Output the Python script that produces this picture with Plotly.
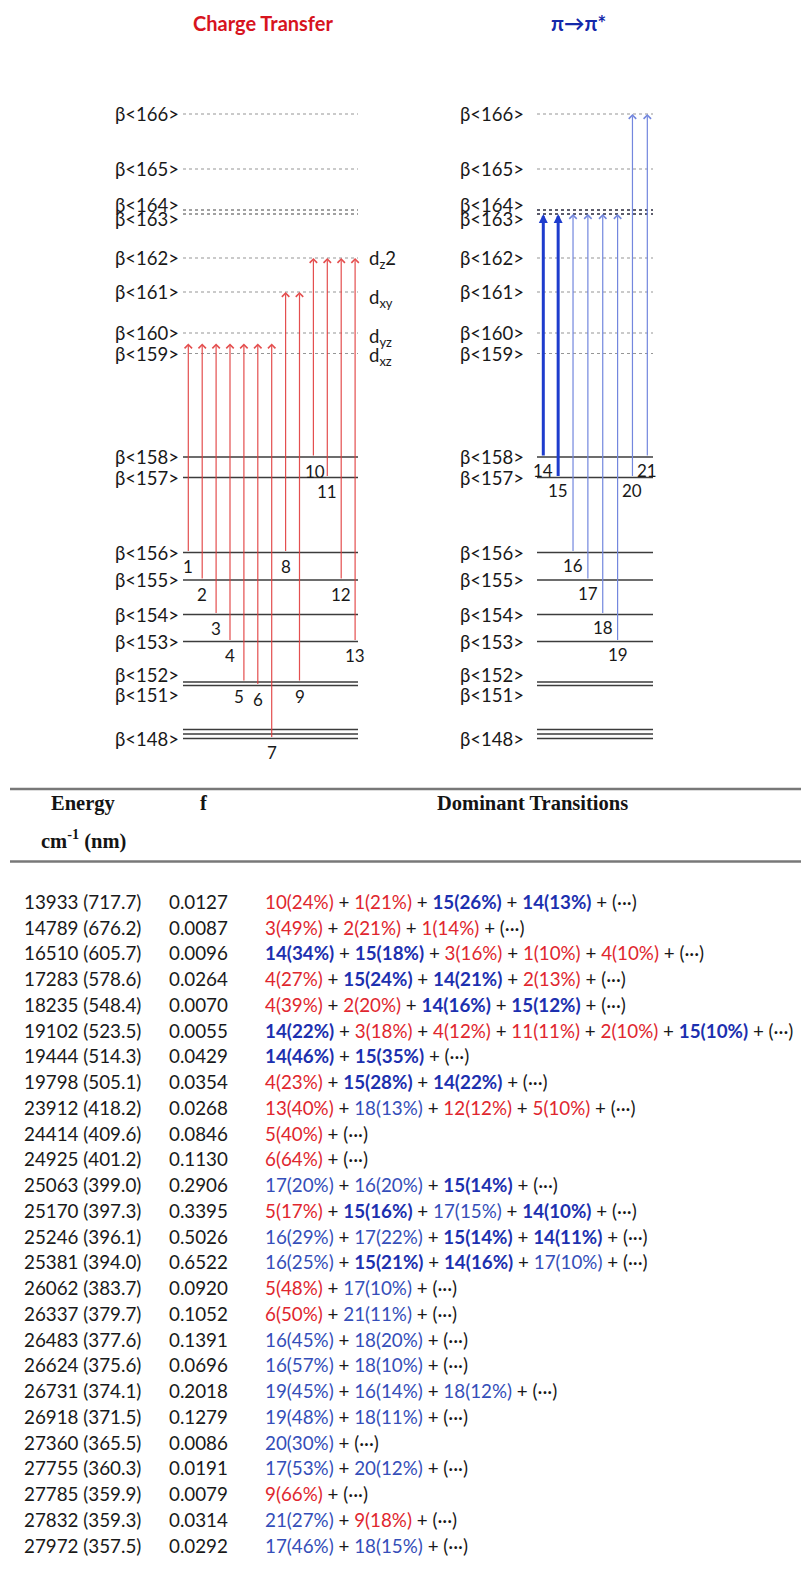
import plotly.graph_objects as go

W, H = 801, 1573

# ---------------- DATA ----------------
# beta spin orbitals, schematic positions in the diagram (arbitrary energy units, higher = less stable)
level_ids = [148, 149, 150, 151, 152, 153, 154, 155, 156, 157, 158,
             159, 160, 161, 162, 163, 164, 165, 166]
level_pos = [21.5, 26, 30.5, 74.5, 78, 118.5, 145.5, 180, 207.5, 282.5, 303,
             406.5, 427, 468, 502, 546, 550, 591, 646]
unlabeled_levels = [149, 150]
last_occupied = 158

# charge-transfer transitions (1-13)
ct_num = [1, 2, 3, 4, 5, 6, 7, 8, 9, 10, 11, 12, 13]
ct_from = [156, 155, 154, 153, 152, 151, 148, 156, 152, 158, 157, 155, 153]
ct_to = [159, 159, 159, 159, 159, 159, 159, 161, 161, 162, 162, 162, 162]

# pi -> pi* transitions (14-21)
pp_num = [14, 15, 16, 17, 18, 19, 20, 21]
pp_from = [158, 157, 156, 155, 154, 153, 157, 158]
pp_to = [163, 163, 163, 163, 163, 163, 166, 166]
pp_major = [14, 15]

d_labels = ["d<sub>xz</sub>", "d<sub>yz</sub>", "d<sub>xy</sub>", "d<sub>z</sub>2"]
d_levels = [159, 160, 161, 162]

# table
energy_cm = [13933, 14789, 16510, 17283, 18235, 19102, 19444, 19798, 23912, 24414,
             24925, 25063, 25170, 25246, 25381, 26062, 26337, 26483, 26624, 26731,
             26918, 27360, 27755, 27785, 27832, 27972]
wavelength_nm = [717.7, 676.2, 605.7, 578.6, 548.4, 523.5, 514.3, 505.1, 418.2, 409.6,
                 401.2, 399.0, 397.3, 396.1, 394.0, 383.7, 379.7, 377.6, 375.6, 374.1,
                 371.5, 365.5, 360.3, 359.9, 359.3, 357.5]
osc_f = [0.0127, 0.0087, 0.0096, 0.0264, 0.0070, 0.0055, 0.0429, 0.0354, 0.0268, 0.0846,
         0.1130, 0.2906, 0.3395, 0.5026, 0.6522, 0.0920, 0.1052, 0.1391, 0.0696, 0.2018,
         0.1279, 0.0086, 0.0191, 0.0079, 0.0314, 0.0292]
dom_num = [[10, 1, 15, 14], [3, 2, 1], [14, 15, 3, 1, 4], [4, 15, 14, 2], [4, 2, 14, 15],
           [14, 3, 4, 11, 2, 15], [14, 15], [4, 15, 14], [13, 18, 12, 5], [5], [6],
           [17, 16, 15], [5, 15, 17, 14], [16, 17, 15, 14], [16, 15, 14, 17], [5, 17],
           [6, 21], [16, 18], [16, 18], [19, 16, 18], [19, 18], [20], [17, 20], [9],
           [21, 9], [17, 18]]
dom_pct = [[24, 21, 26, 13], [49, 21, 14], [34, 18, 16, 10, 10], [27, 24, 21, 13], [39, 20, 16, 12],
           [22, 18, 12, 11, 10, 10], [46, 35], [23, 28, 22], [40, 13, 12, 10], [40], [64],
           [20, 20, 14], [17, 16, 15, 10], [29, 22, 14, 11], [25, 21, 16, 10], [48, 10],
           [50, 11], [45, 20], [57, 10], [45, 14, 12], [48, 11], [30], [53, 12], [66],
           [27, 18], [46, 15]]

# ---------------- STYLE / LAYOUT ----------------
RED = "rgb(224,38,46)"
RED_ARROW = "rgba(226,60,60,0.9)"
BLUE_BOLD = "rgb(28,48,175)"
BLUE_TXT = "rgb(52,78,185)"
BLUE_THICK = "rgb(30,60,205)"
BLUE_THIN = "rgb(115,135,222)"
TXT = "rgb(25,25,25)"
FONT = "Lato, 'Open Sans', sans-serif"
SERIF = "'Liberation Serif', 'Times New Roman', serif"

LEFT_X = (183, 358)
RIGHT_X = (537, 653)
LEFT_LABEL_X = 181
RIGHT_LABEL_X = 526
CT_X0, CT_DX = 188.3, 13.9
PP_X0, PP_DX = 543.3, 14.86
DIAG_TOP_PX = 760          # y-axis: value 0 at pixel 760, value 760 at pixel 0
TABLE_TOP_PX = 870
ROW0_PX, ROW_DY = 901.3, 25.75
TIP_OFFSET = {159: 10}     # arrow heads drawn slightly above the d(xz) line
NUM_XSHIFT = {5: -5, 10: 2}

pos = dict(zip(level_ids, level_pos))


def paper_y(px):
    return 1 - px / H


fig = go.Figure()

# ---- level lines ----
groups = {"occ": ([], []), "virt": ([], []), "virt_dark": ([], []), "virt_pair": ([], [])}
for lid in level_ids:
    y = pos[lid]
    for side, (x0, x1) in (("L", LEFT_X), ("R", RIGHT_X)):
        if lid <= last_occupied:
            g = "occ"
        elif lid in (163, 164):
            g = "virt_dark" if side == "R" else "virt_pair"
        else:
            g = "virt"
        groups[g][0].extend([x0, x1, None])
        groups[g][1].extend([y, y, None])

styles = {
    "occ": dict(color="rgb(60,60,60)", width=1.3, dash="solid"),
    "virt": dict(color="rgb(150,150,150)", width=1.2, dash="dot"),
    "virt_pair": dict(color="rgb(130,130,130)", width=1.3, dash="dot"),
    "virt_dark": dict(color="rgb(40,40,60)", width=1.6, dash="dot"),
}
for g, (xs, ys) in groups.items():
    fig.add_trace(go.Scatter(x=xs, y=ys, mode="lines", line=styles[g],
                             hoverinfo="skip", showlegend=False, xaxis="x", yaxis="y"))

ann = []

# ---- level labels ----
label_shift = {164: 5, 163: -5, 152: 7, 151: -9}
for lid in level_ids:
    if lid in unlabeled_levels:
        continue
    for lx in (LEFT_LABEL_X, RIGHT_LABEL_X):
        ann.append(dict(x=lx, y=pos[lid], xref="x", yref="y", text=f"β&lt;{lid}&gt;",
                        showarrow=False, xanchor="right", yanchor="middle",
                        yshift=label_shift.get(lid, 0),
                        font=dict(family=FONT, size=18.5, color=TXT)))

# ---- d orbital labels ----
d_shift = {159: -3, 160: -4, 161: -6, 162: -1}
for lab, lid in zip(d_labels, d_levels):
    ann.append(dict(x=367, y=pos[lid], xref="x", yref="y", text=lab, showarrow=False,
                    xanchor="left", yanchor="middle", yshift=d_shift[lid],
                    font=dict(family=FONT, size=18.5, color=TXT)))

# ---- charge transfer arrows ----
for i, (n, a, b) in enumerate(zip(ct_num, ct_from, ct_to)):
    x = CT_X0 + i * CT_DX
    ann.append(dict(x=x, y=pos[b] + TIP_OFFSET.get(b, 0), ax=x, ay=pos[a],
                    xref="x", yref="y", axref="x", ayref="y",
                    text="", showarrow=True, arrowhead=4, arrowsize=1.2, arrowwidth=1.2,
                    arrowcolor=RED_ARROW, standoff=0))
    ann.append(dict(x=x, y=pos[a], xref="x", yref="y", text=str(n), showarrow=False,
                    xanchor="center", yanchor="middle", yshift=-14,
                    xshift=NUM_XSHIFT.get(n, 0),
                    font=dict(family=FONT, size=17, color=TXT)))

# ---- pi -> pi* arrows ----
for j, (n, a, b) in enumerate(zip(pp_num, pp_from, pp_to)):
    x = PP_X0 + j * PP_DX
    if n in pp_major:
        ann.append(dict(x=x, y=pos[b], ax=x, ay=pos[a], xref="x", yref="y", axref="x", ayref="y",
                        text="", showarrow=True, arrowhead=2, arrowsize=0.6, arrowwidth=3,
                        arrowcolor=BLUE_THICK, standoff=0))
    else:
        ann.append(dict(x=x, y=pos[b], ax=x, ay=pos[a], xref="x", yref="y", axref="x", ayref="y",
                        text="", showarrow=True, arrowhead=4, arrowsize=1.2, arrowwidth=1.2,
                        arrowcolor=BLUE_THIN, standoff=0))
    ann.append(dict(x=x, y=pos[a], xref="x", yref="y", text=str(n), showarrow=False,
                    xanchor="center", yanchor="middle", yshift=-13,
                    font=dict(family=FONT, size=17, color=TXT)))

# ---- titles ----
ann.append(dict(x=263, y=paper_y(23), xref="x", yref="paper", text="<b>Charge Transfer</b>",
                showarrow=False, xanchor="center", yanchor="middle",
                font=dict(family=FONT, size=20, color="rgb(215,20,30)")))
ann.append(dict(x=578, y=paper_y(23), xref="x", yref="paper", text="<b>π→π*</b>",
                showarrow=False, xanchor="center", yanchor="middle",
                font=dict(family=FONT, size=20.5, color="rgb(20,40,170)")))

# ---- table header ----
hdr_font = dict(family=SERIF, size=20.5, color="rgb(20,20,20)")
ann.append(dict(x=83.5, y=paper_y(803), xref="x", yref="paper", text="<b>Energy</b>",
                showarrow=False, xanchor="center", yanchor="middle", font=hdr_font))
ann.append(dict(x=83.5, y=paper_y(840), xref="x", yref="paper",
                text="<b>cm<sup>-1</sup> (nm)</b>",
                showarrow=False, xanchor="center", yanchor="middle", font=hdr_font))
ann.append(dict(x=204, y=paper_y(803), xref="x", yref="paper", text="<b>f</b>",
                showarrow=False, xanchor="center", yanchor="middle", font=hdr_font))
ann.append(dict(x=532, y=paper_y(803), xref="x", yref="paper", text="<b>Dominant Transitions</b>",
                showarrow=False, xanchor="center", yanchor="middle", font=hdr_font))

shapes = []
for py in (789, 861.5):
    shapes.append(dict(type="line", xref="paper", yref="paper", x0=10 / W, x1=1,
                       y0=paper_y(py), y1=paper_y(py),
                       line=dict(color="rgb(120,120,120)", width=2.5)))


def fmt_item(n, p):
    s = f"{n}({p}%)"
    if n in pp_major:
        return f"<b><span style='color:{BLUE_BOLD}'>{s}</span></b>"
    if n in pp_num:
        return f"<span style='color:{BLUE_TXT}'>{s}</span>"
    return f"<span style='color:{RED}'>{s}</span>"


body_font = dict(family=FONT, size=18.8, color=TXT)
for i in range(len(energy_cm)):
    ann.append(dict(x=21.7, y=i, xref="x", yref="y2",
                    text=f"{energy_cm[i]} ({wavelength_nm[i]:.1f})",
                    showarrow=False, xanchor="left", yanchor="middle", font=body_font))
    ann.append(dict(x=167, y=i, xref="x", yref="y2", text=f"{osc_f[i]:.4f}",
                    showarrow=False, xanchor="left", yanchor="middle", font=body_font))
    parts = [fmt_item(n, p) for n, p in zip(dom_num[i], dom_pct[i])]
    txt = " + ".join(parts) + " + (···)"
    ann.append(dict(x=263, y=i, xref="x", yref="y2", text=txt,
                    showarrow=False, xanchor="left", yanchor="middle", font=body_font))

row_lo = (TABLE_TOP_PX - ROW0_PX) / ROW_DY
row_hi = (H - ROW0_PX) / ROW_DY

fig.update_layout(
    width=W, height=H, margin=dict(l=0, r=0, t=0, b=0),
    paper_bgcolor="white", plot_bgcolor="white",
    showlegend=False,
    xaxis=dict(range=[0, W], domain=[0, 1], visible=False, fixedrange=True),
    yaxis=dict(range=[0, DIAG_TOP_PX], domain=[1 - DIAG_TOP_PX / H, 1], visible=False,
               fixedrange=True),
    yaxis2=dict(range=[row_hi, row_lo], domain=[0, 1 - TABLE_TOP_PX / H], visible=False,
                anchor="x", fixedrange=True),
    annotations=ann, shapes=shapes,
)

fig.write_html("out.html", config={"displayModeBar": False},
               post_script="document.body.style.margin='0px';document.body.style.overflow='hidden';")
